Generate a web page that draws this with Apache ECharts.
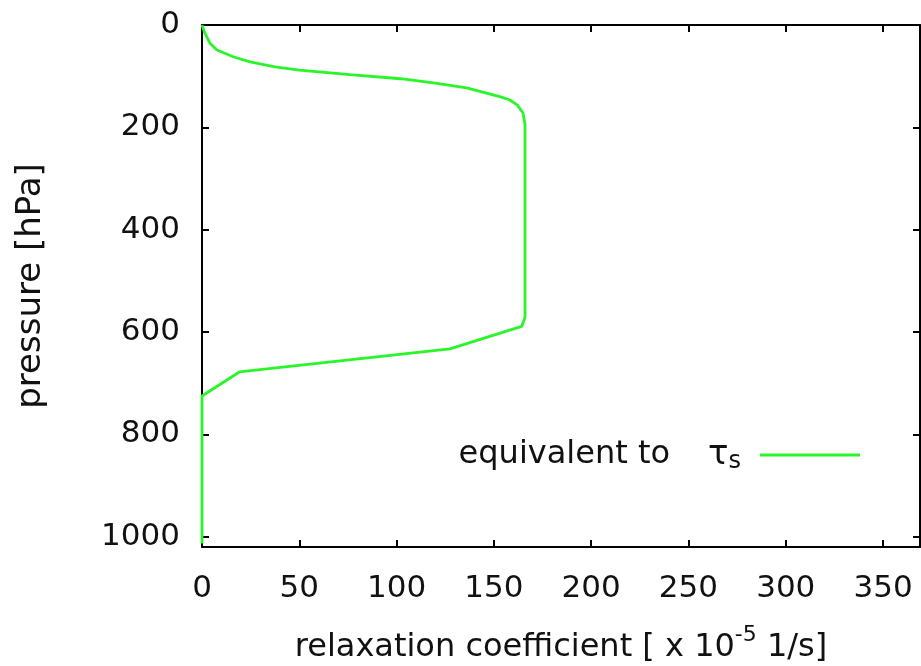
<!DOCTYPE html>
<html>
<head>
<meta charset="utf-8">
<script src="https://cdn.jsdelivr.net/npm/echarts@6/dist/echarts.min.js"></script>
<style>
html,body{margin:0;padding:0;background:#fff;}
#c{width:921px;height:666px;}
</style>
</head>
<body>
<div id="c"></div>
<script>
// Data
var pressure = [0, 16, 35, 49, 62, 72, 82, 88, 97, 105, 113, 123, 140, 146, 156, 172, 195, 250, 400, 571, 589, 633, 678, 725, 800, 900, 1013];
var coefficient = [0, 1.5, 4, 7.7, 16, 24.7, 37.5, 50, 76, 102, 119, 136, 153, 158, 162, 165, 166, 166, 166, 166, 164.3, 127.4, 19.2, 0, 0, 0, 0];
var xTicks = [0, 50, 100, 150, 200, 250, 300, 350];
var yTicks = [0, 200, 400, 600, 800, 1000];
var seriesName = 'equivalent to tau_s';

var FONT = 'DejaVu Sans';
var pts = pressure.map(function (p, i) { return [coefficient[i], p]; });

function xAxisBase(pos, showLabels) {
  return {
    type: 'value', position: pos, min: 0, max: 369, interval: 50,
    axisLine: { show: true, onZero: false, lineStyle: { color: '#000', width: 2 } },
    axisTick: { show: true, inside: true, length: 7, lineStyle: { color: '#000', width: 2 } },
    axisLabel: {
      show: showLabels, margin: 26, showMaxLabel: false,
      color: '#111', fontFamily: FONT, fontSize: 31,
      formatter: function (v) { return xTicks.indexOf(v) >= 0 ? String(v) : ''; }
    },
    splitLine: { show: false }
  };
}
function yAxisBase(pos, showLabels) {
  return {
    type: 'value', position: pos, inverse: true, min: 0, max: 1020, interval: 200,
    axisLine: { show: true, onZero: false, lineStyle: { color: '#000', width: 2 } },
    axisTick: { show: true, inside: true, length: 7, lineStyle: { color: '#000', width: 2 } },
    axisLabel: {
      show: showLabels, margin: 22, showMaxLabel: false,
      color: '#111', fontFamily: FONT, fontSize: 31,
      formatter: function (v) { return yTicks.indexOf(v) >= 0 ? String(v) : ''; }
    },
    splitLine: { show: false }
  };
}

var xb = xAxisBase('bottom', true);
xb.name = '{n|relaxation coefficient [ x 10}{sup|-5}{n| 1/s]}';
xb.nameLocation = 'middle';
xb.nameGap = 77;
xb.nameTextStyle = {
  rich: {
    n: { fontFamily: FONT, fontSize: 32, color: '#111', lineHeight: 40, verticalAlign: 'bottom' },
    sup: { fontFamily: FONT, fontSize: 22, color: '#111', lineHeight: 40, verticalAlign: 'top' }
  }
};
var yl = yAxisBase('left', true);
yl.name = 'pressure [hPa]';
yl.nameLocation = 'middle';
yl.nameGap = 154;
yl.nameTextStyle = { fontFamily: FONT, fontSize: 34, color: '#111' };

var xt = xAxisBase('top', false);
var yr = yAxisBase('right', false);

var chart = echarts.init(document.getElementById('c'), null, { renderer: 'canvas' });
chart.setOption({
  animation: false,
  backgroundColor: '#fff',
  grid: { left: 202, top: 25, right: 1, bottom: 119, containLabel: false, outerBoundsMode: 'none' },
  xAxis: [xb, xt],
  yAxis: [yl, yr],
  legend: {
    right: 56, top: 433,
    align: 'right',
    itemWidth: 100, itemHeight: 6,
    icon: 'path://M0,0 L100,0 L100,3 L0,3 Z',
    data: [seriesName],
    formatter: function () { return '{a|equivalent to}{g|}{t|τ}{s|s}{g2|}'; },
    textStyle: {
      rich: {
        a: { fontFamily: FONT, fontSize: 32, color: '#111', lineHeight: 38 },
        g: { width: 38 },
        t: { fontFamily: FONT, fontSize: 34, color: '#111', lineHeight: 38 },
        s: { fontFamily: FONT, fontSize: 24, color: '#111', lineHeight: 38, verticalAlign: 'bottom' },
        g2: { width: 14 }
      }
    }
  },
  series: [{
    name: seriesName,
    type: 'line',
    xAxisIndex: 0, yAxisIndex: 0,
    data: pts,
    symbol: 'none',
    smooth: false,
    clip: false,
    color: '#2af52a',
    lineStyle: { color: '#2af52a', width: 2.8 },
    itemStyle: { color: '#2af52a' }
  }]
});
</script>
</body>
</html>
